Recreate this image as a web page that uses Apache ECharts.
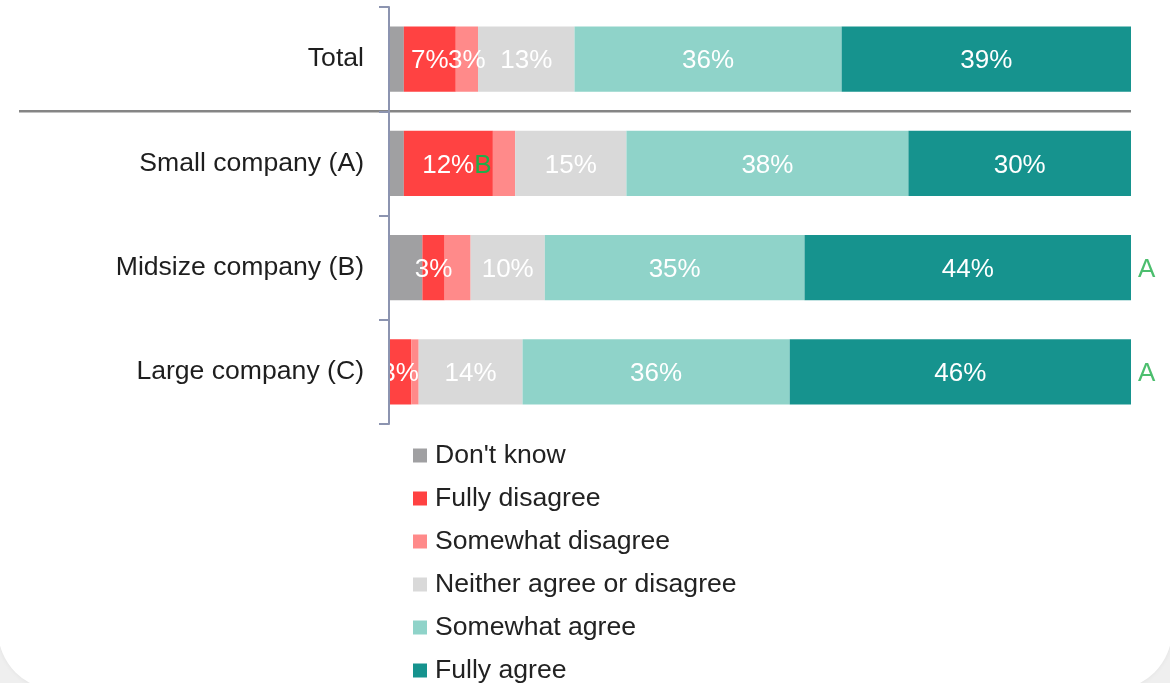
<!DOCTYPE html>
<html>
<head>
<meta charset="utf-8">
<title>Agreement by company size</title>
<script src="https://cdn.jsdelivr.net/npm/echarts@6/dist/echarts.min.js"></script>
<style>
  html, body { margin: 0; padding: 0; background: #ffffff; overflow: hidden; }
  #chart { width: 1170px; height: 683px; }
</style>
</head>
<body>
<div id="chart"></div>
<script>
// Survey answers by company size, in percent of respondents
const categories = ['Total', 'Small company (A)', 'Midsize company (B)', 'Large company (C)'];
const seriesNames = ["Don't know", 'Fully disagree', 'Somewhat disagree', 'Neither agree or disagree', 'Somewhat agree', 'Fully agree'];
const dontKnow         = [2, 2, 4.5, 0];
const fullyDisagree    = [7, 12, 3, 3];
const somewhatDisagree = [3, 3, 3.5, 1];
const neither          = [13, 15, 10, 14];
const somewhatAgree    = [36, 38, 35, 36];
const fullyAgree       = [39, 30, 44, 46];

// which segments carry a value label (1 = shown)
const shownDontKnow         = [0, 0, 0, 0];
const shownFullyDisagree    = [1, 1, 1, 1];
const shownSomewhatDisagree = [1, 0, 0, 0];
const shownNeither          = [1, 1, 1, 1];
const shownSomewhatAgree    = [1, 1, 1, 1];
const shownFullyAgree       = [1, 1, 1, 1];

// significance letters: next to the "Fully disagree" value, and after the bar end
const sigInline = ['', 'B', '', ''];
const sigRight  = ['', '', 'A', 'A'];

const colors = ['#a0a0a2', '#ff4242', '#ff8a8a', '#d9d9d9', '#8fd3c9', '#16938e'];
const FONT = "'Liberation Sans', Arial, sans-serif";
const SIG_GREEN = '#1fae4a';

const values = [dontKnow, fullyDisagree, somewhatDisagree, neither, somewhatAgree, fullyAgree];
const shown = [shownDontKnow, shownFullyDisagree, shownSomewhatDisagree, shownNeither, shownSomewhatAgree, shownFullyAgree];

const rowTotals = categories.map((_, i) => values.reduce((s, arr) => s + arr[i], 0));

const chart = echarts.init(document.getElementById('chart'), null, { renderer: 'canvas' });

const barSeries = seriesNames.map((name, si) => ({
  name: name,
  type: 'bar',
  stack: 'answers',
  barWidth: '62.4%',
  itemStyle: { color: colors[si] },
  emphasis: { disabled: true },
  data: values[si].map((v, ci) => ({
    value: v,
    label: { show: !!shown[si][ci] }
  })),
  label: {
    position: 'inside',
    offset: [0, 2],
    fontFamily: FONT,
    fontSize: 26,
    color: '#ffffff',
    formatter: p => {
      const txt = Math.round(p.value) + '%';
      const letter = si === 1 ? sigInline[p.dataIndex] : '';
      return letter ? '{pad|}{v|' + txt + '}{s|' + letter + '}' : '{v|' + txt + '}';
    },
    rich: {
      v: { fontFamily: FONT, fontSize: 26, color: '#ffffff' },
      s: { fontFamily: FONT, fontSize: 26, color: SIG_GREEN },
      pad: { width: 17 }
    }
  }
}));

// letters placed just after the end of each bar
const sigSeries = {
  name: 'sig',
  type: 'scatter',
  symbolSize: 0,
  silent: true,
  data: categories.map((c, i) => ({ value: [rowTotals[i], i], sig: sigRight[i] })).filter(d => d.sig),
  label: {
    show: true,
    position: 'right',
    distance: 7,
    offset: [0, 2],
    fontFamily: FONT,
    fontSize: 26,
    color: SIG_GREEN,
    formatter: p => p.data.sig
  }
};

chart.setOption({
  animation: false,
  textStyle: { fontFamily: FONT },
  grid: { left: 389, right: 39, top: 7, bottom: 259, containLabel: false },
  xAxis: { type: 'value', min: 0, max: 100, show: false },
  yAxis: {
    type: 'category',
    inverse: true,
    data: categories,
    z: 10,
    axisLine: { show: true, lineStyle: { color: '#8c94b0', width: 2 } },
    axisTick: { show: true, length: 10, lineStyle: { color: '#8c94b0', width: 2 } },
    axisLabel: { margin: 25, padding: [3, 0, 0, 0], fontFamily: FONT, fontSize: 26.6, color: '#1e1e1e' },
    splitLine: { show: false }
  },
  legend: {
    data: seriesNames,
    orient: 'vertical',
    left: 413,
    top: 442,
    height: 320,
    padding: 0,
    itemWidth: 14,
    itemHeight: 14,
    itemGap: 16,
    icon: 'rect',
    selectedMode: false,
    textStyle: { fontFamily: FONT, fontSize: 26.6, color: '#222222', padding: [0, 0, 0, 3] }
  },
  series: barSeries.concat([sigSeries])
});

// separator under the "Total" row and the rounded card frame behind the chart
const yTop = chart.convertToPixel({ yAxisIndex: 0 }, categories[0]);
const yNext = chart.convertToPixel({ yAxisIndex: 0 }, categories[1]);
const xEnd = chart.convertToPixel({ xAxisIndex: 0 }, 100);
const sepY = (yTop + yNext) / 2;

chart.setOption({
  graphic: [
    {
      type: 'rect', z: -20, silent: true,
      shape: { x: 0, y: 0, width: 1170, height: 683 },
      style: { fill: '#efefef' }
    },
    {
      type: 'rect', z: -19, silent: true,
      shape: { x: -2, y: -80, width: 1174, height: 770, r: 60 },
      style: { fill: '#ffffff', shadowBlur: 5, shadowColor: 'rgba(0,0,0,0.06)' }
    },
    {
      type: 'line', z: 5, silent: true,
      shape: { x1: 19, y1: sepY, x2: xEnd, y2: sepY },
      style: { stroke: '#858585', lineWidth: 2.5 }
    }
  ]
});
</script>
</body>
</html>
